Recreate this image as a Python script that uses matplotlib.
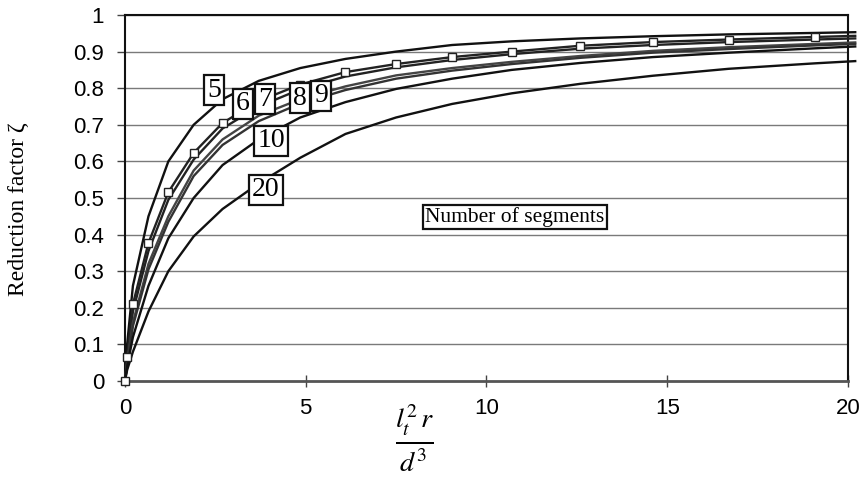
import matplotlib
matplotlib.use("Agg")
import matplotlib.pyplot as plt

# x positions of the calculated points (same for every curve)
x_vals = [0, 0.06, 0.22, 0.65, 1.2, 1.9, 2.7, 3.7, 4.85, 6.1, 7.5, 9.05,
          10.7, 12.6, 14.6, 16.7, 19.1, 20.2]

# reduction factor per number of segments
zeta_5 = [0, 0.10, 0.26, 0.45, 0.60, 0.70, 0.77, 0.82, 0.855, 0.88, 0.90, 0.918,
          0.928, 0.936, 0.942, 0.947, 0.951, 0.953]
zeta_6 = [0, 0.066, 0.21, 0.377, 0.516, 0.623, 0.705, 0.765, 0.81, 0.844, 0.866, 0.885,
          0.90, 0.916, 0.926, 0.933, 0.94, 0.943]
zeta_7 = [0, 0.06, 0.19, 0.355, 0.495, 0.605, 0.69, 0.75, 0.797, 0.832, 0.857, 0.877,
          0.893, 0.908, 0.918, 0.926, 0.933, 0.936]
zeta_8 = [0, 0.05, 0.16, 0.32, 0.45, 0.575, 0.66, 0.725, 0.77, 0.805, 0.835, 0.855,
          0.872, 0.888, 0.902, 0.912, 0.921, 0.925]
zeta_9 = [0, 0.045, 0.15, 0.305, 0.435, 0.56, 0.645, 0.71, 0.758, 0.795, 0.826, 0.848,
          0.866, 0.883, 0.897, 0.907, 0.917, 0.921]
zeta_10 = [0, 0.04, 0.12, 0.26, 0.39, 0.50, 0.59, 0.66, 0.72, 0.762, 0.798, 0.826,
           0.85, 0.869, 0.885, 0.897, 0.909, 0.914]
zeta_20 = [0, 0.03, 0.08, 0.19, 0.30, 0.395, 0.47, 0.54, 0.61, 0.675, 0.72, 0.757,
           0.786, 0.812, 0.834, 0.853, 0.868, 0.874]

segment_labels = ["5", "6", "7", "8", "9", "10", "20"]
label_x = [2.46, 3.26, 3.87, 4.84, 5.42, 4.04, 3.9]
label_y = [0.795, 0.757, 0.77, 0.773, 0.779, 0.656, 0.522]

x_ticks = [0, 5, 10, 15, 20]
y_ticks = [0, 0.1, 0.2, 0.3, 0.4, 0.5, 0.6, 0.7, 0.8, 0.9, 1]
y_tick_labels = ["0", "0.1", "0.2", "0.3", "0.4", "0.5", "0.6", "0.7", "0.8", "0.9", "1"]

SERIF = "Liberation Serif"
SANS = "Liberation Sans"

fig = plt.figure(figsize=(8.63, 4.82), dpi=100)
ax = fig.add_axes([0.1448, 0.2095, 0.8378, 0.7594])

for yv in y_ticks[1:]:
    ax.axhline(yv, color="#7a7a7a", lw=1.0, zorder=1)

curves = [zeta_5, zeta_6, zeta_7, zeta_8, zeta_9, zeta_10, zeta_20]
colors = ["#111111", "#222222", "#222222", "#444444", "#333333", "#111111", "#111111"]
for z, c in zip(curves, colors):
    ax.plot(x_vals, z, color=c, lw=1.7, zorder=3, clip_on=False)
ax.plot(x_vals[:-1], zeta_6[:-1], ls="none", marker="s", ms=5.5, mfc="white",
        mec="#222222", mew=1.0, zorder=4, clip_on=False)

box = dict(boxstyle="square,pad=0.1", fc="white", ec="#111111", lw=1.6)
for lab, lx, ly in zip(segment_labels, label_x, label_y):
    ax.text(lx, ly, lab, ha="center", va="center", fontsize=20, family=SERIF,
            bbox=box, zorder=6)
ax.text(10.79, 0.448, "Number of segments", ha="center", va="center",
        fontsize=15.5, family=SERIF, bbox=box, zorder=6)

ax.set_xlim(0, 20)
ax.set_ylim(0, 1)
ax.set_xticks(x_ticks)
ax.set_xticklabels([str(t) for t in x_ticks], family=SANS, fontsize=16)
ax.set_yticks(y_ticks)
ax.set_yticklabels(y_tick_labels, family=SANS, fontsize=16)
ax.tick_params(axis="y", direction="out", length=6, width=1, pad=9, color="#444444")
ax.tick_params(axis="x", direction="inout", length=8, width=1, pad=8, color="#444444")

for side in ["left", "top", "right"]:
    ax.spines[side].set_color("#111111")
    ax.spines[side].set_linewidth(1.5)
ax.spines["bottom"].set_color("#555555")
ax.spines["bottom"].set_linewidth(2)

fig.text(0.021, 0.565, "Reduction factor \u03b6", rotation=90, ha="center", va="center",
         fontsize=17, family=SERIF)
fig.text(0.481, 0.09, r"$\frac{l_t^2\, r}{d^3}$", ha="center", va="center", fontsize=29,
         math_fontfamily="stix")

fig.savefig("out.png", dpi=100)
